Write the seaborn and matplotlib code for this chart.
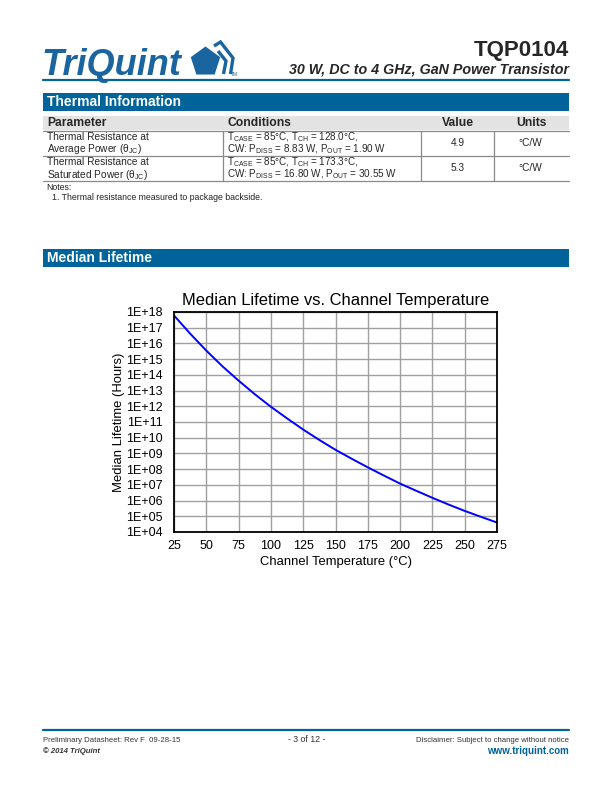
import matplotlib
matplotlib.use("Agg")
import matplotlib.pyplot as plt
import seaborn as sns
import numpy as np
import pandas as pd
from matplotlib.patches import Rectangle, RegularPolygon
from matplotlib.ticker import FixedLocator, NullLocator

# ---------------- data ----------------
channel_temp_c = [25, 37.5, 50, 62.5, 75, 87.5, 100, 112.5, 125, 137.5, 150,
                  162.5, 175, 187.5, 200, 212.5, 225, 237.5, 250, 262.5, 275]
median_lifetime_h = [6.0e17, 4.2e16, 3.5e15, 3.5e14, 4.3e13, 5.9e12, 9.3e11,
                     1.7e11, 3.3e10, 7.2e9, 1.7e9, 4.6e8, 1.3e8, 3.9e7, 1.2e7,
                     4.2e6, 1.5e6, 5.6e5, 2.2e5, 9.3e4, 4.0e4]
x_ticks = [25, 50, 75, 100, 125, 150, 175, 200, 225, 250, 275]
y_exponents = list(range(4, 19))
y_tick_labels = ["1E+%02d" % e for e in y_exponents]

table_header = ["Parameter", "Conditions", "Value", "Units"]
row_params = [["Thermal Resistance at", r"Average Power (θ$_{\rm JC}$)"],
              ["Thermal Resistance at", r"Saturated Power (θ$_{\rm JC}$)"]]
row_conditions = [[r"T$_{\rm CASE}$ = 85°C, T$_{\rm CH}$ = 128.0°C,",
                   r"CW: P$_{\rm DISS}$ = 8.83 W, P$_{\rm OUT}$ = 1.90 W"],
                  [r"T$_{\rm CASE}$ = 85°C, T$_{\rm CH}$ = 173.3°C,",
                   r"CW: P$_{\rm DISS}$ = 16.80 W, P$_{\rm OUT}$ = 30.55 W"]]
row_values = ["4.9", "5.3"]
row_units = ["°C/W", "°C/W"]

# ---------------- style ----------------
sns.set_theme(style="whitegrid")
plt.rcParams['font.family'] = ['Liberation Sans', 'DejaVu Sans']
plt.rcParams['mathtext.fontset'] = 'custom'
plt.rcParams['mathtext.rm'] = 'Liberation Sans'
plt.rcParams['mathtext.it'] = 'Liberation Sans:italic'
plt.rcParams['mathtext.bf'] = 'Liberation Sans:bold'

BLUE = '#00639a'
LOGO = '#1a64a0'
W, H = 612, 792
fig = plt.figure(figsize=(6.12, 7.92), dpi=100)
fig.patch.set_facecolor('white')

# page canvas in pixel coordinates
pg = fig.add_axes([0, 0, 1, 1])
pg.set_xlim(0, W)
pg.set_ylim(H, 0)
pg.axis('off')

# ---- header ----
pg.text(41, 75, "TriQuint", fontsize=26, fontweight='bold', fontstyle='italic',
        color=LOGO, ha='left', va='baseline')
pg.add_patch(RegularPolygon((205.5, 62), numVertices=5, radius=15.5,
                            orientation=np.pi, color=LOGO, lw=0))
pg.plot([214, 220.5, 233, 230.5], [46, 42, 58, 74], color=LOGO, lw=2.4,
        solid_joinstyle='miter', solid_capstyle='butt')
pg.plot([218, 226, 223.5], [51, 61, 74], color=LOGO, lw=2.4,
        solid_joinstyle='miter', solid_capstyle='butt')
pg.text(231, 76, "TM", fontsize=3.5, color=LOGO, ha='left', va='baseline')

pg.text(569, 56, "TQP0104", fontsize=16, fontweight='bold', ha='right', va='baseline')
pg.text(569, 73, "30 W, DC to 4 GHz, GaN Power Transistor", fontsize=10.3,
        fontweight='bold', fontstyle='italic', ha='right', va='baseline')
pg.plot([43, 569], [80, 80], color=BLUE, lw=1.6)

# ---- Thermal Information section ----
pg.add_patch(Rectangle((43, 93), 526, 18, color=BLUE, lw=0))
pg.text(47, 102.5, "Thermal Information", fontsize=10, fontweight='bold',
        color='white', ha='left', va='center')
pg.add_patch(Rectangle((43, 116), 526, 14, color='#e3e3e3', lw=0))
col_x = [43, 223, 421, 494, 569]
pg.text(47, 123, table_header[0], fontsize=8.7, fontweight='bold', va='center')
pg.text(227, 123, table_header[1], fontsize=8.7, fontweight='bold', va='center')
pg.text((col_x[2] + col_x[3]) / 2, 123, table_header[2], fontsize=8.7,
        fontweight='bold', va='center', ha='center')
pg.text((col_x[3] + col_x[4]) / 2, 123, table_header[3], fontsize=8.7,
        fontweight='bold', va='center', ha='center')
row_tops = [130.5, 155.7]
row_h = 25.3
for y in row_tops + [row_tops[-1] + row_h]:
    pg.plot([43, 569], [y, y], color='#8a8a8a', lw=0.9)
for i, top in enumerate(row_tops):
    for cx in col_x[1:4]:
        pg.plot([cx, cx], [top, top + row_h], color='#8a8a8a', lw=0.9)
    l1, l2 = top + 6.3, top + 18.8
    pg.text(47, l1, row_params[i][0], fontsize=7.3, va='center')
    pg.text(47, l2, row_params[i][1], fontsize=7.3, va='center')
    pg.text(227, l1, row_conditions[i][0], fontsize=7.1, va='center')
    pg.text(227, l2, row_conditions[i][1], fontsize=7.1, va='center')
    pg.text((col_x[2] + col_x[3]) / 2, top + 12.5, row_values[i], fontsize=7.3,
            va='center', ha='center')
    pg.text((col_x[3] + col_x[4]) / 2 - 1, top + 12.5, row_units[i], fontsize=7.3,
            va='center', ha='center')
pg.text(46, 187, "Notes:", fontsize=6.3, va='center', color='#222222')
pg.text(52, 197, "1. Thermal resistance measured to package backside.", fontsize=6.3,
        va='center', color='#222222')

# ---- Median Lifetime section ----
pg.add_patch(Rectangle((43, 249), 526, 17.5, color=BLUE, lw=0))
pg.text(47, 258, "Median Lifetime", fontsize=10, fontweight='bold',
        color='white', ha='left', va='center')

# ---- footer ----
pg.plot([43, 569], [730, 730], color=BLUE, lw=1.6)
pg.text(43, 740, "Preliminary Datasheet: Rev F  09-28-15", fontsize=5.6,
        va='center', color='#333333')
pg.text(43, 751, "© 2014 TriQuint", fontsize=5.6, fontweight='bold',
        fontstyle='italic', va='center', color='#333333')
pg.text(307, 740, "- 3 of 12 -", fontsize=6.3, va='center', ha='center',
        color='#333333')
pg.text(569, 740, "Disclaimer: Subject to change without notice", fontsize=5.6,
        va='center', ha='right', color='#333333')
pg.text(569, 751, "www.triquint.com", fontsize=7, fontweight='bold',
        va='center', ha='right', color=BLUE)

# ---------------- chart ----------------
ax_l, ax_r, ax_t, ax_b = 174, 497, 312, 532
ax = fig.add_axes([ax_l / W, 1 - ax_b / H, (ax_r - ax_l) / W, (ax_b - ax_t) / H])
df = pd.DataFrame({"temp": channel_temp_c, "life": median_lifetime_h})
sns.lineplot(data=df, x="temp", y="life", ax=ax, color='#0000ff', lw=1.4)
ax.set_yscale('log')
ax.set_xlim(25, 275)
ax.set_ylim(1e4, 1e18)
ax.xaxis.set_major_locator(FixedLocator(x_ticks))
ax.set_xticklabels([str(t) for t in x_ticks])
ax.yaxis.set_major_locator(FixedLocator([10.0 ** e for e in y_exponents]))
ax.yaxis.set_minor_locator(NullLocator())
ax.set_yticklabels(y_tick_labels)
ax.set_facecolor('white')
ax.grid(True, color='#a0a0a0', lw=1.0)
ax.tick_params(axis='both', length=0, labelsize=9, colors='black')
ax.tick_params(axis='y', pad=8)
ax.tick_params(axis='x', pad=6)
for s in ax.spines.values():
    s.set_color('black')
    s.set_linewidth(1.3)
    s.set_visible(True)
ax.set_xlabel("Channel Temperature (°C)", fontsize=9.4, labelpad=3, color='black')
ax.set_ylabel("Median Lifetime (Hours)", fontsize=9.4, labelpad=1, color='black')
ax.set_title("Median Lifetime vs. Channel Temperature", fontsize=11.9, pad=5,
             color='black')

fig.savefig("out.png", dpi=100, facecolor='white')
